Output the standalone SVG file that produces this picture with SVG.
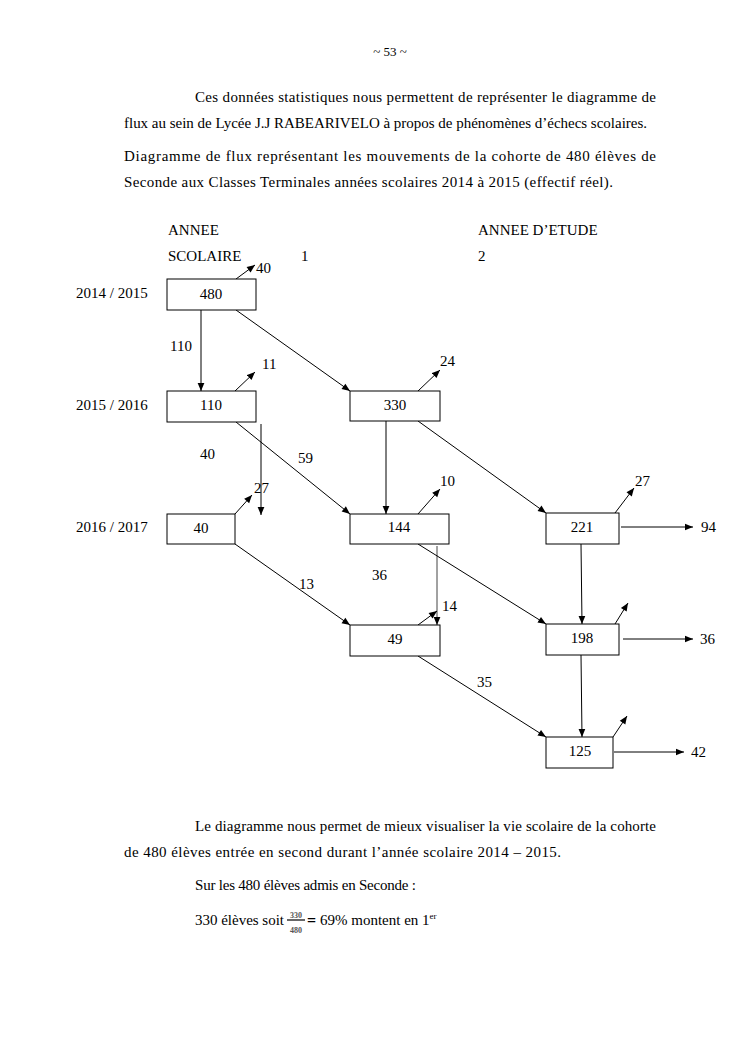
<svg xmlns="http://www.w3.org/2000/svg" width="744" height="1053" viewBox="0 0 744 1053">
<style>
text{font-family:"Liberation Serif","DejaVu Serif",serif;font-size:15px;fill:#000}
.box{fill:#fff;stroke:#000;stroke-width:1}
.c{text-anchor:middle}
.ln{stroke:#000;stroke-width:1;fill:none;marker-end:url(#ah)}
.sm{font-size:13px}
.fr{font-size:8px;font-weight:bold;fill:#555;text-anchor:middle}
</style>
<defs>
<marker id="ah" viewBox="0 0 10 10" refX="10" refY="5" markerWidth="9" markerHeight="8" markerUnits="userSpaceOnUse" orient="auto"><path d="M0,0.8 L10,5 L0,9.2 z" fill="#000"/></marker>
</defs>
<rect width="744" height="1053" fill="#fff"/>

<g id="page-text">
<text x="390" y="56" class="c sm">~ 53 ~</text>
<text x="195" y="102" textLength="461" lengthAdjust="spacing">Ces données statistiques nous permettent de représenter le diagramme de</text>
<text x="124" y="128" textLength="523" lengthAdjust="spacing">flux au sein de Lycée J.J RABEARIVELO à propos de phénomènes d’échecs scolaires.</text>
<text x="124" y="161" textLength="532" lengthAdjust="spacing">Diagramme de flux représentant les mouvements de la cohorte de 480 élèves de</text>
<text x="124" y="187" textLength="489" lengthAdjust="spacing">Seconde aux Classes Terminales années scolaires 2014 à 2015 (effectif réel).</text>

<text x="168" y="235">ANNEE</text>
<text x="168" y="261">SCOLAIRE</text>
<text x="301" y="261">1</text>
<text x="478" y="235">ANNEE D’ETUDE</text>
<text x="478" y="261">2</text>

<text x="76" y="298">2014 / 2015</text>
<text x="76" y="410">2015 / 2016</text>
<text x="76" y="532">2016 / 2017</text>

<text x="195" y="831" textLength="461" lengthAdjust="spacing">Le diagramme nous permet de mieux visualiser la vie scolaire de la cohorte</text>
<text x="124" y="857" textLength="437" lengthAdjust="spacing">de 480 élèves entrée en second durant l’année scolaire 2014 – 2015.</text>
<text x="195" y="890" textLength="221" lengthAdjust="spacing">Sur les 480 élèves admis en Seconde :</text>
<text x="195" y="925" textLength="89" lengthAdjust="spacing">330 élèves soit</text>
<text x="296" y="918" class="fr">330</text>
<line x1="287" y1="920" x2="305" y2="920" stroke="#000" stroke-width="1.2"/>
<text x="296" y="933" class="fr">480</text>
<text x="307" y="926" style="font-weight:bold;font-size:16px">=</text>
<text x="320" y="925">69% montent en 1<tspan dy="-6" style="font-size:9px">er</tspan></text>
</g>

<g id="connectors">
<line class="ln" x1="236" y1="279" x2="255" y2="265"/>
<line class="ln" x1="201" y1="310" x2="201" y2="391"/>
<line class="ln" x1="236" y1="310" x2="350" y2="391"/>
<line class="ln" x1="235" y1="391" x2="255" y2="372"/>
<line class="ln" x1="418" y1="391" x2="440" y2="370"/>
<line class="ln" x1="236" y1="422" x2="350" y2="514"/>
<line class="ln" x1="261" y1="424" x2="261" y2="515"/>
<line class="ln" x1="235" y1="514" x2="252" y2="495"/>
<line class="ln" x1="386" y1="421" x2="386" y2="514"/>
<line class="ln" x1="418" y1="514" x2="440" y2="489"/>
<line class="ln" x1="418" y1="421" x2="546" y2="513"/>
<line class="ln" x1="615" y1="513" x2="634" y2="488"/>
<line class="ln" x1="621" y1="527" x2="693" y2="527"/>
<line class="ln" x1="235" y1="544" x2="350" y2="625"/>
<line class="ln" x1="437" y1="546" x2="437" y2="625" style="stroke:#444"/>
<line class="ln" x1="418" y1="625" x2="437" y2="611"/>
<line class="ln" x1="418" y1="544" x2="546" y2="624"/>
<line class="ln" x1="581" y1="544" x2="582" y2="624"/>
<line class="ln" x1="615" y1="624" x2="628" y2="603"/>
<line class="ln" x1="623" y1="639" x2="693" y2="639"/>
<line class="ln" x1="418" y1="656" x2="546" y2="737"/>
<line class="ln" x1="581" y1="655" x2="582" y2="737"/>
<line class="ln" x1="613" y1="737" x2="627" y2="716"/>
<line class="ln" x1="614" y1="752" x2="684" y2="752"/>

<text x="256" y="273">40</text>
<text x="170" y="351">110</text>
<text x="262" y="369">11</text>
<text x="440" y="366">24</text>
<text x="200" y="459">40</text>
<text x="298" y="463">59</text>
<text x="254" y="493">27</text>
<text x="440" y="486">10</text>
<text x="635" y="486">27</text>
<text x="701" y="532">94</text>
<text x="372" y="580">36</text>
<text x="299" y="589">13</text>
<text x="442" y="611">14</text>
<text x="700" y="644">36</text>
<text x="477" y="687">35</text>
<text x="691" y="757">42</text>
</g>

<g id="n480"><rect class="box" x="167" y="279" width="89" height="31"/><text x="211" y="299" class="c">480</text></g>
<g id="n110"><rect class="box" x="167" y="391" width="89" height="31"/><text x="211" y="410" class="c">110</text></g>
<g id="n330"><rect class="box" x="350" y="391" width="90" height="30"/><text x="395" y="410" class="c">330</text></g>
<g id="n40"><rect class="box" x="167" y="514" width="68" height="30"/><text x="201" y="533" class="c">40</text></g>
<g id="n144"><rect class="box" x="350" y="514" width="99" height="30"/><text x="399" y="532" class="c">144</text></g>
<g id="n221"><rect class="box" x="546" y="513" width="73" height="31"/><text x="582" y="532" class="c">221</text></g>
<g id="n49"><rect class="box" x="350" y="625" width="90" height="31"/><text x="395" y="644" class="c">49</text></g>
<g id="n198"><rect class="box" x="546" y="624" width="73" height="31"/><text x="582" y="643" class="c">198</text></g>
<g id="n125"><rect class="box" x="546" y="737" width="67" height="31"/><text x="580" y="756" class="c">125</text></g>
</svg>
